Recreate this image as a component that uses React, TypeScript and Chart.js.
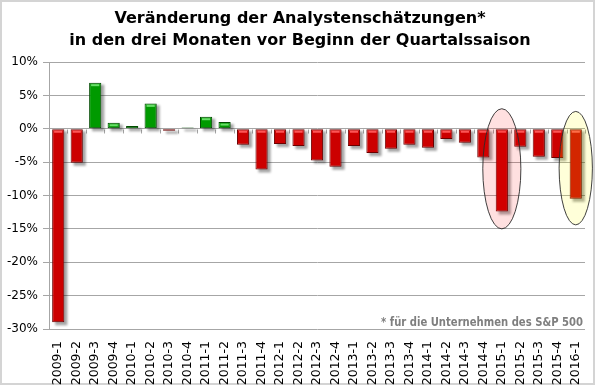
import React, { useEffect, useRef } from 'react';
import { Chart, registerables } from 'chart.js';

Chart.register(...registerables);

// ---- data ----
const categories = [
  '2009-1', '2009-2', '2009-3', '2009-4',
  '2010-1', '2010-2', '2010-3', '2010-4',
  '2011-1', '2011-2', '2011-3', '2011-4',
  '2012-1', '2012-2', '2012-3', '2012-4',
  '2013-1', '2013-2', '2013-3', '2013-4',
  '2014-1', '2014-2', '2014-3', '2014-4',
  '2015-1', '2015-2', '2015-3', '2015-4',
  '2016-1',
];
const changes = [
  -29.0, -5.1, 6.9, 0.9,
  0.4, 3.8, -0.3, 0.2,
  1.8, 1.0, -2.4, -6.1,
  -2.3, -2.6, -4.75, -5.7,
  -2.6, -3.65, -3.0, -2.4,
  -2.85, -1.55, -2.1, -4.3,
  -12.4, -2.7, -4.2, -4.4,
  -10.5,
];
const yMin = -30;
const yMax = 10;
const yStep = 5;
const titleLines = [
  'Veränderung der Analystenschätzungen*',
  'in den drei Monaten vor Beginn der Quartalssaison',
];
const footnote = '* für die Unternehmen des S&P 500';
// highlighted quarters (ellipse extents given in data units)
const highlighted = ['2015-1', '2016-1'];
const highlightTop = [3.0, 2.6];
const highlightBottom = [-15.0, -14.4];

// ---- styles ----
const FONT = 'DejaVu Sans';
const RED = '#cc0000';
const RED_BORDER = '#6a0000';
const GREEN = '#009a00';
const GREEN_BORDER = '#004a00';
const GRID = '#a6a6a6';
const highlightStyle = [
  { fill: 'rgba(255,0,0,0.12)', halfWidth: 1.03 },
  { fill: 'rgba(255,255,0,0.15)', halfWidth: 0.9 },
];

const framePlugin = {
  id: 'frame',
  beforeDraw(chart: any) {
    const { ctx, width, height } = chart;
    ctx.save();
    ctx.fillStyle = '#ffffff';
    ctx.fillRect(0, 0, width, height);
    ctx.strokeStyle = '#d4d4d4';
    ctx.lineWidth = 2;
    ctx.strokeRect(1, 1, width - 2, height - 2);
    // title
    ctx.font = `bold 16px "${FONT}"`;
    ctx.fillStyle = '#000000';
    ctx.textAlign = 'center';
    ctx.textBaseline = 'middle';
    titleLines.forEach((line, i) => {
      ctx.fillText(line, 300, 18.5 + i * 22.5);
    });
    ctx.restore();
  },
};

const barDecorPlugin = {
  id: 'barDecor',
  beforeDatasetsDraw(chart: any) {
    const { ctx } = chart;
    const xs = chart.scales.x;
    const ys = chart.scales.y;
    const y0 = Math.round(ys.getPixelForValue(0)) + 0.5;
    // ticks on the zero line at category boundaries
    ctx.save();
    ctx.strokeStyle = GRID;
    ctx.lineWidth = 1;
    ctx.beginPath();
    const n = categories.length;
    const step = xs.getPixelForValue(1) - xs.getPixelForValue(0);
    for (let i = 0; i <= n; i++) {
      const bx = Math.round(xs.getPixelForValue(i) - step / 2) + 0.5;
      ctx.moveTo(bx, y0);
      ctx.lineTo(bx, y0 + 4);
    }
    ctx.stroke();
    ctx.restore();
    // shadows
    const meta = chart.getDatasetMeta(0);
    ctx.save();
    ctx.filter = 'blur(1.2px)';
    ctx.fillStyle = 'rgba(0,0,0,0.35)';
    meta.data.forEach((bar: any) => {
      const { x, y, base, width } = bar.getProps(['x', 'y', 'base', 'width'], true);
      const top = Math.min(y, base);
      const h = Math.abs(base - y);
      ctx.fillRect(x - width / 2 + 3, top + 2, width, h + 1);
    });
    ctx.restore();
  },
  afterDatasetsDraw(chart: any) {
    const { ctx } = chart;
    const meta = chart.getDatasetMeta(0);
    const xs = chart.scales.x;
    const ys = chart.scales.y;
    // highlight stripe at the top of each bar
    ctx.save();
    meta.data.forEach((bar: any, i: number) => {
      const { x, y, base, width } = bar.getProps(['x', 'y', 'base', 'width'], true);
      const top = Math.min(y, base);
      const h = Math.abs(base - y);
      if (h < 5) return;
      ctx.fillStyle = changes[i] >= 0 ? 'rgba(110,225,110,0.95)' : 'rgba(255,90,90,0.95)';
      ctx.fillRect(x - width / 2 + 2, top + 1.5, width - 4, 2);
    });
    ctx.restore();
    // highlight ellipses
    const step = xs.getPixelForValue(1) - xs.getPixelForValue(0);
    highlighted.forEach((cat, k) => {
      const idx = categories.indexOf(cat);
      const cx = xs.getPixelForValue(idx);
      const yt = ys.getPixelForValue(highlightTop[k]);
      const yb = ys.getPixelForValue(highlightBottom[k]);
      const rx = step * highlightStyle[k].halfWidth;
      const ry = (yb - yt) / 2;
      ctx.save();
      ctx.beginPath();
      ctx.ellipse(cx, (yt + yb) / 2, rx, ry, 0, 0, Math.PI * 2);
      ctx.fillStyle = highlightStyle[k].fill;
      ctx.fill();
      ctx.strokeStyle = '#2a2a2a';
      ctx.lineWidth = 0.9;
      ctx.stroke();
      ctx.restore();
    });
    // footnote
    const ca = chart.chartArea;
    ctx.save();
    ctx.font = `bold 11.5px "${FONT}"`;
    ctx.fillStyle = '#7f7f7f';
    ctx.textAlign = 'right';
    ctx.textBaseline = 'alphabetic';
    ctx.fillText(footnote, ca.right - 2, ca.bottom - 3, 202);
    ctx.restore();
  },
};

export default function App() {
  const ref = useRef<HTMLCanvasElement | null>(null);
  useEffect(() => {
    if (!ref.current) return;
    const chart = new Chart(ref.current, {
      type: 'bar',
      data: {
        labels: categories,
        datasets: [
          {
            data: changes,
            backgroundColor: changes.map((v) => (v >= 0 ? GREEN : RED)),
            borderColor: changes.map((v) => (v >= 0 ? GREEN_BORDER : RED_BORDER)),
            borderWidth: 1,
            borderSkipped: false,
            barPercentage: 0.66,
            categoryPercentage: 1,
          },
        ],
      },
      options: {
        animation: false,
        responsive: false,
        devicePixelRatio: 1,
        layout: { padding: { left: 0, right: 10, top: 62, bottom: 0 } },
        plugins: {
          legend: { display: false },
          tooltip: { enabled: false },
          title: { display: false },
        },
        scales: {
          x: {
            grid: { display: false },
            border: { display: false },
            ticks: {
              autoSkip: false,
              minRotation: 90,
              maxRotation: 90,
              color: '#000000',
              font: { family: FONT, size: 12.5 },
              padding: 4,
            },
            afterFit: (s: any) => {
              s.height = 56;
            },
          },
          y: {
            min: yMin,
            max: yMax,
            ticks: {
              stepSize: yStep,
              color: '#000000',
              font: { family: FONT, size: 12 },
              padding: 5,
              callback: (v: any) => `${v}%`,
            },
            grid: { color: GRID, tickLength: 6, drawTicks: true },
            border: { color: GRID },
            afterFit: (s: any) => {
              s.width = 49;
            },
          },
        },
      },
      plugins: [framePlugin, barDecorPlugin],
    } as any);
    return () => chart.destroy();
  }, []);
  return (
    <div style={{ position: 'fixed', left: 0, top: 0, width: 595, height: 385 }}>
      <canvas ref={ref} width={595} height={385} style={{ display: 'block', width: 595, height: 385 }} />
    </div>
  );
}
